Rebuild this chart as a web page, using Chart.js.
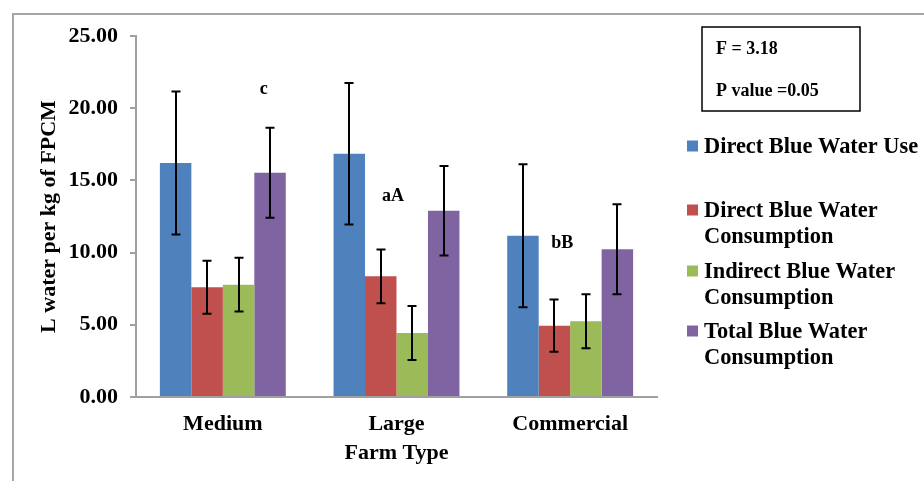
<!DOCTYPE html>
<html>
<head>
<meta charset="utf-8">
<script src="https://cdn.jsdelivr.net/npm/chart.js@4/dist/chart.umd.min.js"></script>
<style>
  html, body { margin: 0; padding: 0; background: #ffffff; }
  #wrap { width: 924px; height: 483px; position: relative; }
</style>
</head>
<body>
<div id="wrap"><canvas id="c" width="924" height="483"></canvas></div>
<script>
// ---- data ----
const categories = ['Medium', 'Large', 'Commercial'];
const seriesNames = [
  ['Direct Blue Water Use'],
  ['Direct Blue Water', 'Consumption'],
  ['Indirect Blue Water', 'Consumption'],
  ['Total Blue Water', 'Consumption']
];
const directUse = [16.20, 16.85, 11.17];
const directUseErr = [4.95, 4.90, 4.95];
const directCons = [7.60, 8.36, 4.94];
const directConsErr = [1.84, 1.86, 1.81];
const indirectCons = [7.78, 4.43, 5.24];
const indirectConsErr = [1.86, 1.87, 1.87];
const totalCons = [15.53, 12.90, 10.23];
const totalConsErr = [3.12, 3.10, 3.12];
const yTicks = [0, 5, 10, 15, 20, 25];
// significance letters: text, category index, offset within category, value
const sigLabels = [
  { text: 'c', cat: 0, off: 0.236, value: 21.3 },
  { text: 'aA', cat: 1, off: -0.02, value: 13.9 },
  { text: 'bB', cat: 2, off: -0.046, value: 10.65 }
];
const statsLines = ['F = 3.18', 'P value =0.05'];

const colors = ['#4F81BD', '#C0504D', '#9BBB59', '#8064A2'];
const values = [directUse, directCons, indirectCons, totalCons];
const errors = [directUseErr, directConsErr, indirectConsErr, totalConsErr];

const FONT = '"Liberation Serif", "Times New Roman", serif';

const framePlugin = {
  id: 'frame',
  beforeDraw(chart) {
    const ctx = chart.ctx;
    ctx.save();
    ctx.fillStyle = '#ffffff';
    ctx.fillRect(0, 0, chart.width, chart.height);
    ctx.strokeStyle = '#a6a6a6';
    ctx.lineWidth = 2;
    ctx.beginPath();
    ctx.moveTo(924, 14);
    ctx.lineTo(13, 14);
    ctx.lineTo(13, 481);
    ctx.stroke();
    ctx.restore();
  }
};

const errorBarPlugin = {
  id: 'errorBars',
  afterDatasetsDraw(chart) {
    const ctx = chart.ctx;
    const y = chart.scales.y;
    ctx.save();
    ctx.strokeStyle = '#000000';
    ctx.lineWidth = 2;
    chart.data.datasets.forEach((ds, di) => {
      const meta = chart.getDatasetMeta(di);
      meta.data.forEach((bar, i) => {
        const v = ds.data[i];
        const e = errors[di][i];
        const x = Math.round(bar.x);
        const yt = y.getPixelForValue(v + e);
        const yb = y.getPixelForValue(v - e);
        ctx.beginPath();
        ctx.moveTo(x, yt); ctx.lineTo(x, yb);
        ctx.moveTo(x - 4.5, yt); ctx.lineTo(x + 4.5, yt);
        ctx.moveTo(x - 4.5, yb); ctx.lineTo(x + 4.5, yb);
        ctx.stroke();
      });
    });
    // significance letters
    const xs = chart.scales.x;
    const catW = xs.getPixelForValue(1) - xs.getPixelForValue(0);
    ctx.fillStyle = '#000000';
    ctx.font = 'bold 18px ' + FONT;
    ctx.textAlign = 'center';
    ctx.textBaseline = 'middle';
    sigLabels.forEach(l => {
      ctx.fillText(l.text, xs.getPixelForValue(l.cat) + l.off * catW, y.getPixelForValue(l.value));
    });
    ctx.restore();
  },
  afterDraw(chart) {
    const ctx = chart.ctx;
    ctx.save();
    // stats box
    ctx.strokeStyle = '#000000';
    ctx.lineWidth = 1.5;
    ctx.strokeRect(702, 27, 158, 84);
    ctx.fillStyle = '#000000';
    ctx.font = 'bold 18px ' + FONT;
    ctx.textAlign = 'left';
    ctx.textBaseline = 'alphabetic';
    ctx.fillText(statsLines[0], 716, 54);
    ctx.fillText(statsLines[1], 716, 96);
    // legend
    ctx.font = 'bold 22.4px ' + FONT;
    const baselines = [153, 217, 278, 338];
    chart.data.datasets.forEach((ds, di) => {
      const b = baselines[di];
      ctx.fillStyle = ds.backgroundColor;
      ctx.fillRect(687, b - 12.5, 11, 11);
      ctx.fillStyle = '#000000';
      seriesNames[di].forEach((line, li) => {
        ctx.fillText(line, 704, b + li * 26);
      });
    });
    ctx.restore();
  }
};

new Chart(document.getElementById('c'), {
  type: 'bar',
  data: {
    labels: categories,
    datasets: values.map((vals, i) => ({
      label: seriesNames[i].join(' '),
      data: vals,
      backgroundColor: colors[i],
      borderWidth: 0,
      categoryPercentage: 0.725,
      barPercentage: 1.0
    }))
  },
  options: {
    responsive: false,
    animation: false,
    devicePixelRatio: 1,
    layout: { padding: { left: 0, top: 36, right: 267, bottom: 0 } },
    plugins: {
      legend: { display: false },
      tooltip: { enabled: false },
      title: { display: false }
    },
    scales: {
      x: {
        grid: { display: false, drawTicks: false },
        border: { display: true, color: '#a0a0a0', width: 2 },
        ticks: { color: '#000', font: { family: FONT, size: 22, weight: 'bold' }, padding: 14 },
        title: {
          display: true, text: 'Farm Type', color: '#000',
          font: { family: FONT, size: 22, weight: 'bold' },
          padding: { top: 0, bottom: 16 }
        },
        afterFit(scale) { scale.height = 86; }
      },
      y: {
        min: 0, max: 25,
        afterBuildTicks(scale) { scale.ticks = yTicks.map(v => ({ value: v })); },
        grid: { drawOnChartArea: false, drawTicks: true, tickLength: 6, color: '#a0a0a0', lineWidth: 2 },
        border: { display: true, color: '#a0a0a0', width: 2 },
        ticks: {
          color: '#000', padding: 12,
          font: { family: FONT, size: 22, weight: 'bold' },
          callback: v => Number(v).toFixed(2)
        },
        title: {
          display: true, text: 'L water per kg of FPCM', color: '#000',
          font: { family: FONT, size: 22, weight: 'bold' },
          padding: { top: 36, bottom: 0 }
        },
        afterFit(scale) { scale.width = 136; }
      }
    }
  },
  plugins: [framePlugin, errorBarPlugin]
});
</script>
</body>
</html>
